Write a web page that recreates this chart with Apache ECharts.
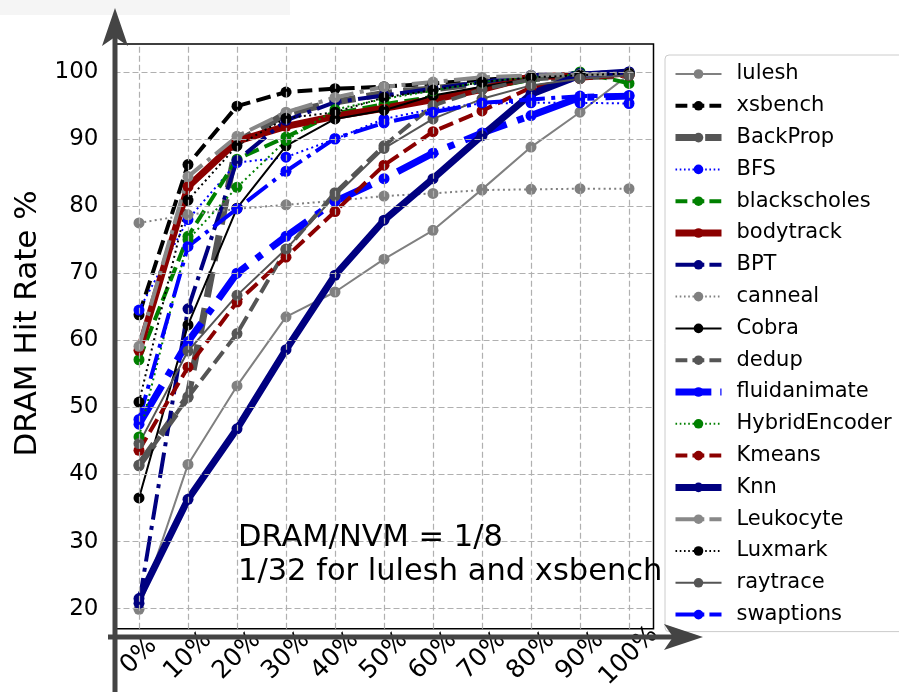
<!DOCTYPE html>
<html>
<head>
<meta charset="utf-8">
<script src="https://cdn.jsdelivr.net/npm/echarts@6/dist/echarts.min.js"></script>
<style>html,body{margin:0;padding:0;background:#fff}#c{width:899px;height:692px}</style>
</head>
<body>
<div id="c"></div>
<script>
const categories = ['0%','10%','20%','30%','40%','50%','60%','70%','80%','90%','100%'];
const yTicks = [20,30,40,50,60,70,80,90,100];

const lulesh        = [19.9, 41.5, 53.2, 63.5, 67.2, 72.1, 76.4, 82.5, 88.8, 94.0, 99.6];
const xsbench       = [63.8, 86.2, 94.9, 97.0, 97.5, 97.8, 98.3, 98.8, 99.3, 99.6, 99.8];
const BackProp      = [41.4, 51.6, 89.5, 93.8, 95.5, 96.8, 97.5, 98.3, 99.0, 99.3, 99.5];
const BFS           = [64.5, 78.0, 86.5, 87.3, 90.0, 93.0, 94.5, 95.3, 95.4, 95.4, 95.3];
const blackscholes  = [57.1, 75.5, 87.0, 90.3, 93.8, 95.2, 96.3, 97.5, 98.8, 100.0, 98.3];
const bodytrack     = [58.5, 82.9, 89.7, 91.9, 93.4, 94.6, 95.9, 97.4, 99.3, 99.5, 99.8];
const BPT           = [20.8, 64.7, 86.8, 92.8, 95.5, 96.5, 97.5, 98.5, 99.5, 99.8, 100.0];
const canneal       = [77.5, 78.7, 79.6, 80.2, 80.8, 81.5, 81.9, 82.4, 82.5, 82.6, 82.6];
const Cobra         = [36.5, 62.3, 79.7, 89.0, 93.0, 94.3, 96.5, 97.8, 99.0, 99.5, 99.9];
const dedup         = [41.3, 51.5, 61.0, 73.5, 82.0, 89.0, 95.0, 97.4, 98.9, 99.3, 99.6];
const fluidanimate  = [47.5, 59.8, 70.0, 75.5, 80.7, 84.1, 87.9, 90.9, 93.5, 96.2, 96.4];
const HybridEncoder = [45.6, 75.0, 82.8, 89.8, 94.4, 96.0, 97.2, 98.5, 99.3, 99.6, 99.8];
const Kmeans        = [43.6, 56.0, 65.7, 72.4, 79.2, 86.1, 91.1, 94.2, 97.7, 99.0, 99.5];
const Knn           = [21.5, 36.3, 46.8, 58.6, 69.7, 77.9, 84.1, 90.5, 96.7, 99.5, 100.0];
const Leukocyte     = [59.1, 84.4, 90.4, 94.0, 96.2, 97.8, 98.5, 99.2, 99.5, 99.6, 99.8];
const Luxmark       = [50.8, 80.9, 89.0, 93.1, 94.0, 96.2, 97.3, 98.5, 99.2, 99.5, 99.8];
const raytrace      = [44.6, 58.4, 66.7, 73.6, 81.5, 88.6, 93.0, 96.0, 98.0, 99.0, 99.5];
const swaptions     = [48.2, 74.0, 79.6, 85.2, 90.1, 92.4, 94.0, 95.4, 95.9, 96.4, 96.5];

const seriesNames = ['lulesh','xsbench','BackProp','BFS','blackscholes','bodytrack','BPT','canneal','Cobra','dedup','fluidanimate','HybridEncoder','Kmeans','Knn','Leukocyte','Luxmark','raytrace','swaptions'];
const seriesData = [lulesh,xsbench,BackProp,BFS,blackscholes,bodytrack,BPT,canneal,Cobra,dedup,fluidanimate,HybridEncoder,Kmeans,Knn,Leukocyte,Luxmark,raytrace,swaptions];

function dash(lw){return [3.7*lw,1.6*lw];}
function dashdot(lw){return [6.4*lw,1.6*lw,1*lw,1.6*lw];}
function dot(lw){return [1*lw,1.65*lw];}
const THIN = 2, MED = 4, THICK = 7;
const styles = [
  {c:'#808080', w:THIN, t:'solid'},
  {c:'#000000', w:MED, t:dash(MED)},
  {c:'#555555', w:THICK, t:dash(THICK)},
  {c:'#0000ff', w:THIN, t:dot(THIN)},
  {c:'#008000', w:MED, t:dash(MED)},
  {c:'#8b0000', w:THICK, t:'solid'},
  {c:'#000080', w:MED, t:dashdot(MED)},
  {c:'#808080', w:THIN, t:dot(THIN)},
  {c:'#000000', w:THIN, t:'solid'},
  {c:'#555555', w:MED, t:dash(MED)},
  {c:'#0000ff', w:THICK, t:dashdot(THICK)},
  {c:'#008000', w:THIN, t:dot(THIN)},
  {c:'#8b0000', w:MED, t:dash(MED)},
  {c:'#000080', w:THICK, t:'solid'},
  {c:'#888888', w:MED, t:dashdot(MED)},
  {c:'#000000', w:THIN, t:dot(THIN)},
  {c:'#555555', w:THIN, t:'solid'},
  {c:'#0000ff', w:MED, t:dashdot(MED)}
];

const FONT = 'DejaVu Sans';
const series = [{
  name: '_grid', type: 'line', data: categories.map(() => null), silent: true, z: 1,
  markLine: {
    silent: true, symbol: 'none', animation: false, label: {show: false},
    lineStyle: {color: '#b0b0b0', type: [6, 3], width: 1.2},
    emphasis: {disabled: true},
    data: categories.map(c => ({xAxis: c})).concat(yTicks.map(v => ({yAxis: v})))
  }
}];
seriesNames.forEach((n, i) => {
  const s = styles[i];
  series.push({
    name: n, type: 'line', data: seriesData[i], z: 2,
    symbol: 'circle', symbolSize: 11, showSymbol: true,
    lineStyle: {color: s.c, width: s.w, type: s.t, cap: 'butt'},
    itemStyle: {color: s.c, borderWidth: 0},
    emphasis: {disabled: true}
  });
});

const legendData = seriesNames.map((n, i) => ({
  name: n,
  lineStyle: {color: styles[i].c, width: styles[i].w, type: styles[i].t === 'solid' ? 'solid' : styles[i].t.map(x => x * 0.8)},
  itemStyle: {color: styles[i].c}
}));

const chart = echarts.init(document.getElementById('c'), null, {renderer: 'canvas'});
chart.setOption({
  animation: false,
  backgroundColor: '#ffffff',
  grid: {left: 114.5, right: 245.5, top: 44, bottom: 56, show: true, borderColor: '#000', borderWidth: 1.5, backgroundColor: 'transparent'},
  xAxis: {
    type: 'category', data: categories, boundaryGap: true,
    axisLine: {show: false}, axisTick: {show: false}, splitLine: {show: false},
    axisLabel: {rotate: 45, align: 'center', verticalAlign: 'middle', margin: 27, fontFamily: FONT, fontSize: 25, color: '#000', interval: 0}
  },
  yAxis: {
    type: 'value', min: 17, max: 104.17, interval: 1,
    name: 'DRAM Hit Rate %', nameLocation: 'middle', nameGap: 70, nameRotate: 90,
    nameTextStyle: {fontFamily: FONT, fontSize: 31, color: '#000', padding: [0, 0, 0, 26]},
    axisLine: {show: false}, axisTick: {show: false}, splitLine: {show: false},
    axisLabel: {fontFamily: FONT, fontSize: 23, color: '#000', margin: 16, showMinLabel: false, showMaxLabel: false,
      formatter: v => (yTicks.indexOf(Math.round(v)) >= 0 && Math.abs(v - Math.round(v)) < 1e-6) ? String(Math.round(v)) : ''}
  },
  legend: {
    orient: 'vertical', left: 665, top: 55,
    data: legendData,
    itemWidth: 46, itemHeight: 12, itemGap: 9.8,
    padding: [8, 60, 6, 7],
    borderColor: '#cccccc', borderWidth: 1, borderRadius: 4, backgroundColor: '#fff',
    textStyle: {fontFamily: FONT, fontSize: 21, color: '#000', lineHeight: 22, padding: [0, 0, 0, 10]},
    selectedMode: false
  },
  series: series,
  graphic: [
    {type: 'rect', shape: {x: 0, y: 0, width: 290, height: 15}, style: {fill: '#f5f5f5'}, silent: true, z: 0},
    {type: 'text', x: 238, y: 538, style: {text: 'DRAM/NVM = 1/8', font: '30.5px "DejaVu Sans"', fill: '#000', verticalAlign: 'middle'}, z: 50},
    {type: 'text', x: 238, y: 572, style: {text: '1/32 for lulesh and xsbench', font: '30.5px "DejaVu Sans"', fill: '#000', verticalAlign: 'middle'}, z: 50},
    {type: 'line', shape: {x1: 115, y1: 692, x2: 115, y2: 36}, style: {stroke: '#444444', lineWidth: 5}, z: 100, silent: true},
    {type: 'polygon', shape: {points: [[115, 8], [102, 46], [115, 37], [128, 46]]}, style: {fill: '#444444'}, z: 100, silent: true},
    {type: 'line', shape: {x1: 108, y1: 637, x2: 675, y2: 637}, style: {stroke: '#444444', lineWidth: 5}, z: 100, silent: true},
    {type: 'polygon', shape: {points: [[703, 637], [664, 624], [673, 637], [664, 650]]}, style: {fill: '#444444'}, z: 100, silent: true}
  ]
});
</script>
</body>
</html>
